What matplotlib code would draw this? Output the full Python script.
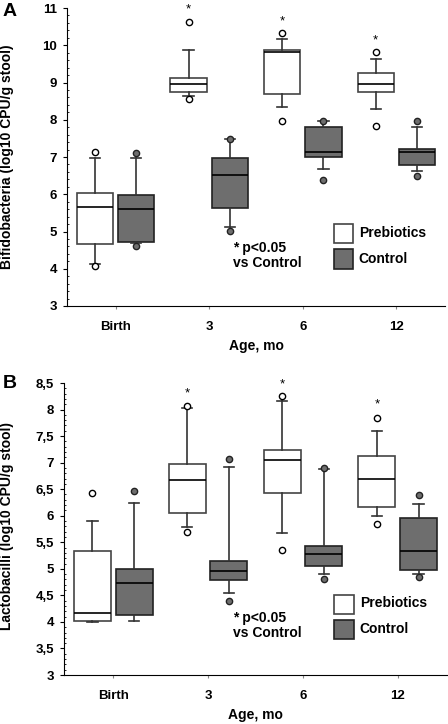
import numpy as np
import matplotlib.pyplot as plt

plt.rcParams['font.family'] = ['Liberation Sans', 'DejaVu Sans']
plt.rcParams['font.weight'] = 'bold'
plt.rcParams['axes.labelweight'] = 'bold'

ages = ['Birth', '3', '6', '12']

# panel A - Bifidobacteria (whislo, q1, median, q3, whishi)
bif_pre_lo = [4.13, 8.65, 8.33, 8.29]
bif_pre_q1 = [4.67, 8.74, 8.68, 8.75]
bif_pre_med = [5.67, 8.96, 9.83, 8.95]
bif_pre_q3 = [6.04, 9.13, 9.87, 9.25]
bif_pre_hi = [6.97, 9.87, 10.17, 9.62]
bif_pre_out = [[7.13, 4.08], [10.62, 8.55], [10.32, 7.97], [9.81, 7.83]]

bif_con_lo = [4.68, 5.11, 6.68, 6.62]
bif_con_q1 = [4.73, 5.63, 6.99, 6.78]
bif_con_med = [5.60, 6.53, 7.14, 7.13]
bif_con_q3 = [5.99, 6.97, 7.81, 7.22]
bif_con_hi = [6.97, 7.48, 7.97, 7.81]
bif_con_out = [[7.12, 4.61], [7.48, 5.02], [7.97, 6.38], [7.97, 6.50]]

bif_star = [None, 10.95, 10.63, 10.14]

# panel B - Lactobacilli
lac_pre_lo = [4.00, 5.79, 5.68, 6.00]
lac_pre_q1 = [4.02, 6.05, 6.42, 6.16]
lac_pre_med = [4.17, 6.67, 7.05, 6.70]
lac_pre_q3 = [5.34, 6.98, 7.23, 7.13]
lac_pre_hi = [5.90, 8.02, 8.16, 7.60]
lac_pre_out = [[6.43], [8.07, 5.69], [8.25, 5.35], [7.84, 5.84]]

lac_con_lo = [4.02, 4.54, 4.91, 4.90]
lac_con_q1 = [4.13, 4.79, 5.05, 4.98]
lac_con_med = [4.73, 4.95, 5.28, 5.34]
lac_con_q3 = [4.99, 5.15, 5.43, 5.96]
lac_con_hi = [6.24, 6.91, 6.88, 6.23]
lac_con_out = [[6.47], [7.06, 4.39], [6.89, 4.81], [6.39, 4.85]]

lac_star = [None, 8.31, 8.47, 8.09]

bif_ticks = [3, 4, 5, 6, 7, 8, 9, 10, 11]
lac_ticks = [3, 3.5, 4, 4.5, 5, 5.5, 6, 6.5, 7, 7.5, 8, 8.5]
lac_ticklabels = ['3', '3,5', '4', '4,5', '5', '5,5', '6', '6,5', '7', '7,5', '8', '8,5']

grey = '#6e6e6e'
edge = '#333333'


def make_stats(lo, q1, med, q3, hi, out):
    stats = []
    for i in range(len(lo)):
        stats.append({'whislo': lo[i], 'q1': q1[i], 'med': med[i], 'q3': q3[i],
                      'whishi': hi[i], 'fliers': out[i]})
    return stats


def draw_panel(ax, pre, con, stars):
    x = np.arange(len(ages))
    off = 0.22
    w = 0.39
    common = dict(widths=w, patch_artist=True, capwidths=0.11, manage_ticks=False,
                  whiskerprops=dict(color=edge, lw=1.2),
                  capprops=dict(color=edge, lw=1.2),
                  medianprops=dict(color='black', lw=1.2))
    ax.bxp(make_stats(*pre), positions=x - off,
           boxprops=dict(facecolor='white', edgecolor='#444444', lw=1.2),
           flierprops=dict(marker='o', markerfacecolor='white', markeredgecolor='black',
                           markersize=4.5, markeredgewidth=1),
           **common)
    ax.bxp(make_stats(*con), positions=x + off,
           boxprops=dict(facecolor=grey, edgecolor='#222222', lw=1.2),
           flierprops=dict(marker='o', markerfacecolor=grey, markeredgecolor='#222222',
                           markersize=4.5, markeredgewidth=1),
           **common)
    for i, s in enumerate(stars):
        if s is not None:
            ax.text(x[i] - off, s, '*', ha='center', va='center', fontsize=9.5,
                    fontweight='normal', clip_on=False)
    ax.set_xlim(-0.52, 3.52)
    ax.set_xticks(x)
    ax.set_xticklabels(ages, fontsize=9.5)
    ax.tick_params(axis='x', length=2, width=0.8, color='#888888', pad=9)
    ax.tick_params(axis='y', which='major', length=3, width=0.8, labelsize=9.5, pad=4)
    ax.tick_params(axis='y', which='minor', length=1.5, width=0.6, direction='in')
    ax.spines['top'].set_visible(False)
    ax.spines['right'].set_visible(False)
    ax.set_xlabel('Age, mo', fontsize=10, labelpad=4)
    # legend squares and note
    ax.text(0.44, 0.17, '* p<0.05\nvs Control', transform=ax.transAxes, fontsize=10,
            va='center', ha='left', linespacing=1.15)
    ax.add_patch(plt.Rectangle((0.706, 0.125), 0.05, 0.065, transform=ax.transAxes,
                               facecolor=grey, edgecolor='#222222', lw=1.2, clip_on=False))
    ax.add_patch(plt.Rectangle((0.706, 0.21), 0.05, 0.065, transform=ax.transAxes,
                               facecolor='white', edgecolor='#444444', lw=1.2, clip_on=False))
    ax.text(0.772, 0.245, 'Prebiotics', transform=ax.transAxes, fontsize=10, va='center')
    ax.text(0.772, 0.158, 'Control', transform=ax.transAxes, fontsize=10, va='center')


fig = plt.figure(figsize=(4.48, 7.24), dpi=100)

axA = fig.add_axes([67 / 448, 418 / 724, 378 / 448, 298 / 724])
draw_panel(axA,
           (bif_pre_lo, bif_pre_q1, bif_pre_med, bif_pre_q3, bif_pre_hi, bif_pre_out),
           (bif_con_lo, bif_con_q1, bif_con_med, bif_con_q3, bif_con_hi, bif_con_out),
           bif_star)
axA.set_ylim(3, 11)
axA.set_yticks(bif_ticks)
axA.set_yticks(np.arange(3, 11.01, 0.2), minor=True)
axA.set_ylabel('Bifidobacteria (log10 CPU/g stool)', fontsize=10)
axA.yaxis.set_label_coords(-53 / 378, 0.5)

axB = fig.add_axes([64 / 448, 49 / 724, 383 / 448, 292 / 724])
draw_panel(axB,
           (lac_pre_lo, lac_pre_q1, lac_pre_med, lac_pre_q3, lac_pre_hi, lac_pre_out),
           (lac_con_lo, lac_con_q1, lac_con_med, lac_con_q3, lac_con_hi, lac_con_out),
           lac_star)
axB.set_ylim(3, 8.5)
axB.set_yticks(lac_ticks)
axB.set_yticklabels(lac_ticklabels)
axB.set_yticks(np.arange(3, 8.51, 0.1), minor=True)
axB.set_ylabel('Lactobacilli (log10 CPU/g stool)', fontsize=10)
axB.yaxis.set_label_coords(-50 / 383, 0.51)

fig.text(3 / 448, 1 - 12 / 724, 'A', fontsize=14, fontweight='bold', va='center')
fig.text(3 / 448, 1 - 384 / 724, 'B', fontsize=14, fontweight='bold', va='center')

fig.savefig('out.png', dpi=100)
